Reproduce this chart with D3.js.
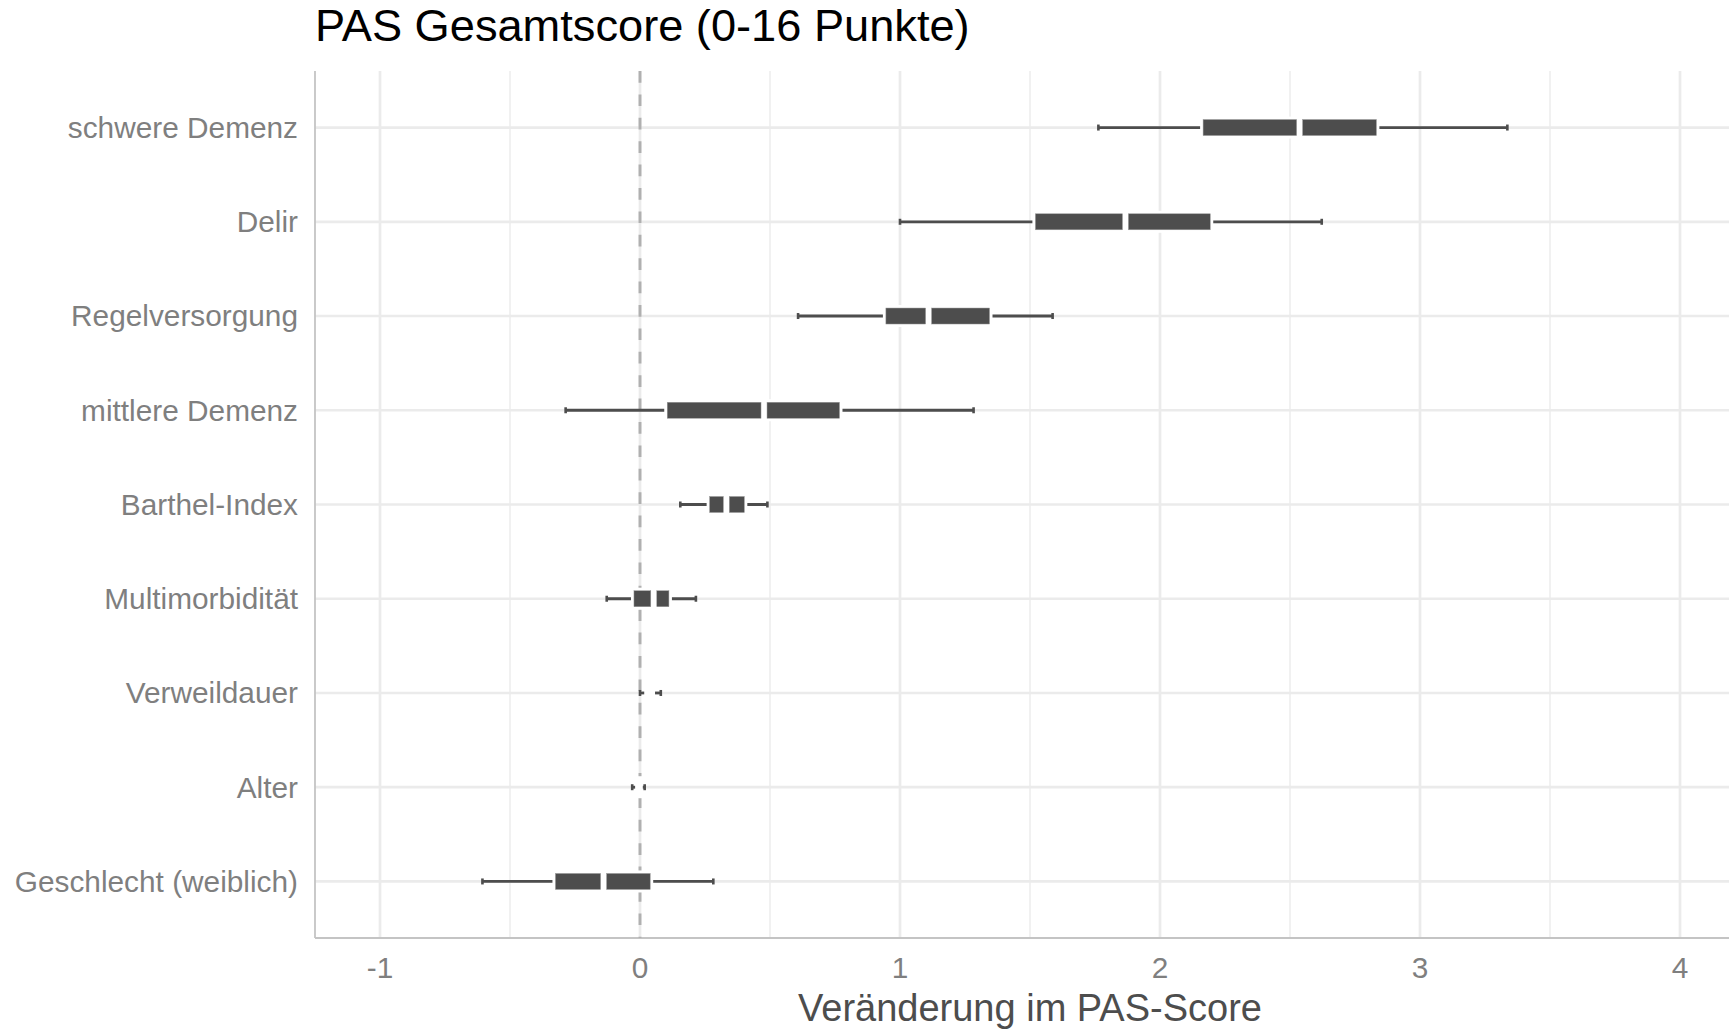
<!DOCTYPE html>
<html>
<head>
<meta charset="utf-8">
<script src="https://cdn.jsdelivr.net/npm/d3@7"></script>
<style>
  html, body { margin: 0; padding: 0; background: #fff; }
  svg { display: block; font-family: "Liberation Sans", Arial, sans-serif; }
</style>
</head>
<body>
<svg id="chart" width="1729" height="1031"></svg>
<script>
// Predictors, top to bottom
const categories = [
  "schwere Demenz", "Delir", "Regelversorgung", "mittlere Demenz",
  "Barthel-Index", "Multimorbidität", "Verweildauer", "Alter",
  "Geschlecht (weiblich)"
];
// Posterior summaries of the change in PAS score
const lower95 = [1.763, 1.000, 0.608, -0.286, 0.155, -0.128, 0.000, -0.030, -0.606];
const lower50 = [2.160, 1.515, 0.940, 0.099, 0.262, -0.029, 0.022, -0.013, -0.331];
const medians = [2.537, 1.867, 1.110, 0.477, 0.332, 0.053, 0.037, -0.004, -0.140];
const upper50 = [2.838, 2.199, 1.350, 0.773, 0.407, 0.117, 0.052, 0.005, 0.045];
const upper95 = [3.336, 2.622, 1.587, 1.283, 0.490, 0.215, 0.080, 0.018, 0.282];
const xTicks = [-1, 0, 1, 2, 3, 4];
const xMinorTicks = [-0.5, 0.5, 1.5, 2.5, 3.5];

const rows = categories.map((c, i) => ({
  cat: c, lo95: lower95[i], lo50: lower50[i], med: medians[i],
  hi50: upper50[i], hi95: upper95[i]
}));

const svg = d3.select("#chart");
const panel = { left: 315, right: 1745, top: 71, bottom: 938 };

const x = d3.scaleLinear().domain([-1.25, 4.25]).range([panel.left, panel.right]);
const y = d3.scalePoint().domain(categories).range([panel.top, panel.bottom]).padding(0.6);

const grid = "#ebebeb";
const ink = "#4d4d4d";

// Grid
const g = svg.append("g");
g.selectAll(".minor").data(xMinorTicks).join("line")
  .attr("x1", d => x(d)).attr("x2", d => x(d))
  .attr("y1", panel.top).attr("y2", panel.bottom)
  .attr("stroke", grid).attr("stroke-width", 1.4);
g.selectAll(".major").data(xTicks).join("line")
  .attr("x1", d => x(d)).attr("x2", d => x(d))
  .attr("y1", panel.top).attr("y2", panel.bottom)
  .attr("stroke", grid).attr("stroke-width", 2.7);
g.selectAll(".hgrid").data(categories).join("line")
  .attr("x1", panel.left).attr("x2", panel.right)
  .attr("y1", d => y(d)).attr("y2", d => y(d))
  .attr("stroke", grid).attr("stroke-width", 2.7);

// Axis lines
svg.append("line")
  .attr("x1", panel.left).attr("x2", panel.left)
  .attr("y1", panel.top).attr("y2", panel.bottom)
  .attr("stroke", "#c4c4c4").attr("stroke-width", 1.8);
svg.append("line")
  .attr("x1", panel.left).attr("x2", panel.right)
  .attr("y1", panel.bottom).attr("y2", panel.bottom)
  .attr("stroke", "#c4c4c4").attr("stroke-width", 1.8);

// Reference line at zero
svg.append("line")
  .attr("x1", x(0)).attr("x2", x(0))
  .attr("y1", panel.top).attr("y2", panel.bottom)
  .attr("stroke", "#b0b0b0").attr("stroke-width", 2.9)
  .attr("stroke-dasharray", "11.7 11.7");

// Interval marks
const boxH = 16, halo = 3, edgePad = 1.5, medGap = 3;
const marks = svg.append("g");
rows.forEach(r => {
  const cy = y(r.cat);
  const m = marks.append("g");
  // outer interval
  m.append("line")
    .attr("x1", x(r.lo95)).attr("x2", x(r.hi95))
    .attr("y1", cy).attr("y2", cy)
    .attr("stroke", ink).attr("stroke-width", 2.8);
  // staples
  [r.lo95, r.hi95].forEach(v => {
    m.append("rect")
      .attr("x", x(v) - 1.3).attr("y", cy - 3)
      .attr("width", 2.6).attr("height", 6)
      .attr("fill", ink);
  });
  // white halo around the inner interval
  m.append("rect")
    .attr("x", x(r.lo50) - edgePad).attr("y", cy - boxH / 2 - halo)
    .attr("width", x(r.hi50) - x(r.lo50) + 2 * edgePad)
    .attr("height", boxH + 2 * halo)
    .attr("fill", "#fff");
  // inner interval split at the median
  const halves = [
    [x(r.lo50) + edgePad, x(r.med) - medGap],
    [x(r.med) + medGap, x(r.hi50) - edgePad]
  ];
  halves.forEach(([a, b]) => {
    if (b - a > 0.3) {
      m.append("rect")
        .attr("x", a).attr("y", cy - boxH / 2)
        .attr("width", b - a).attr("height", boxH)
        .attr("fill", ink)
        .attr("stroke", "#9a9a9a").attr("stroke-width", 0.5);
    }
  });
});

// Y labels
svg.append("g").selectAll("text").data(categories).join("text")
  .attr("x", 298).attr("y", d => y(d))
  .attr("dy", "0.35em")
  .attr("text-anchor", "end")
  .attr("font-size", 29.8)
  .attr("fill", "#7f7f7f")
  .text(d => d);

// X tick labels
svg.append("g").selectAll("text").data(xTicks).join("text")
  .attr("x", d => x(d)).attr("y", 978)
  .attr("text-anchor", "middle")
  .attr("font-size", 29.8)
  .attr("fill", "#7f7f7f")
  .text(d => d);

// Axis title
svg.append("text")
  .attr("x", (panel.left + panel.right) / 2).attr("y", 1021)
  .attr("text-anchor", "middle")
  .attr("font-size", 38)
  .attr("fill", "#4d4d4d")
  .text("Veränderung im PAS-Score");

// Title
svg.append("text")
  .attr("x", panel.left).attr("y", 41)
  .attr("font-size", 45.2)
  .attr("fill", "#000")
  .text("PAS Gesamtscore (0-16 Punkte)");
</script>
</body>
</html>
